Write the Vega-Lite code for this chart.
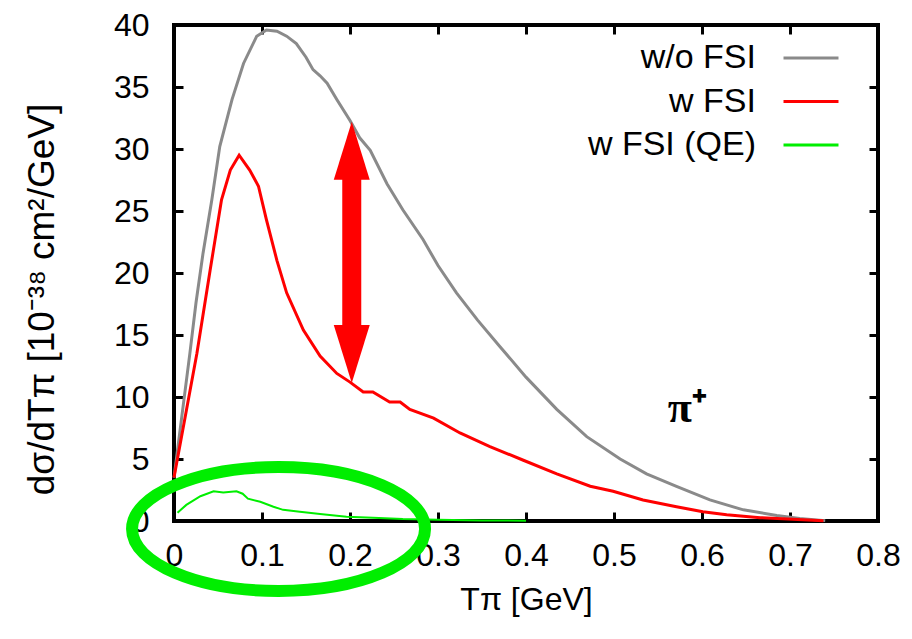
{
  "$schema": "https://vega.github.io/schema/vega-lite/v6.json",
  "width": 704,
  "height": 496,
  "autosize": {"type": "none"},
  "padding": {"left": 174, "top": 25, "right": 34, "bottom": 118},
  "background": "white",
  "config": {
    "view": {"stroke": "black", "strokeWidth": 4},
    "axis": {
      "domain": false, "grid": false, "ticks": true,
      "tickColor": "black", "tickWidth": 3, "tickSize": -9,
      "labelFont": "Liberation Sans", "labelFontSize": 32, "labelColor": "black",
      "titleFont": "Liberation Sans", "titleFontSize": 32, "titleFontWeight": "normal", "titleColor": "black"
    }
  },
  "datasets": {
    "curves": [
      {"series": "w/o FSI", "T": 0.0, "v": 3.5},
      {"series": "w/o FSI", "T": 0.018, "v": 13.5},
      {"series": "w/o FSI", "T": 0.025, "v": 17.6},
      {"series": "w/o FSI", "T": 0.033, "v": 21.6},
      {"series": "w/o FSI", "T": 0.043, "v": 25.9},
      {"series": "w/o FSI", "T": 0.052, "v": 30.2},
      {"series": "w/o FSI", "T": 0.066, "v": 34.0},
      {"series": "w/o FSI", "T": 0.079, "v": 36.9},
      {"series": "w/o FSI", "T": 0.094, "v": 39.1},
      {"series": "w/o FSI", "T": 0.105, "v": 39.6},
      {"series": "w/o FSI", "T": 0.117, "v": 39.5},
      {"series": "w/o FSI", "T": 0.128, "v": 39.1},
      {"series": "w/o FSI", "T": 0.139, "v": 38.5},
      {"series": "w/o FSI", "T": 0.150, "v": 37.4},
      {"series": "w/o FSI", "T": 0.158, "v": 36.4},
      {"series": "w/o FSI", "T": 0.166, "v": 35.9},
      {"series": "w/o FSI", "T": 0.174, "v": 35.3},
      {"series": "w/o FSI", "T": 0.185, "v": 34.0},
      {"series": "w/o FSI", "T": 0.2, "v": 32.3},
      {"series": "w/o FSI", "T": 0.211, "v": 30.9},
      {"series": "w/o FSI", "T": 0.223, "v": 29.9},
      {"series": "w/o FSI", "T": 0.242, "v": 27.2},
      {"series": "w/o FSI", "T": 0.26, "v": 25.1},
      {"series": "w/o FSI", "T": 0.283, "v": 22.7},
      {"series": "w/o FSI", "T": 0.30, "v": 20.6},
      {"series": "w/o FSI", "T": 0.321, "v": 18.4},
      {"series": "w/o FSI", "T": 0.345, "v": 16.2},
      {"series": "w/o FSI", "T": 0.37, "v": 14.1},
      {"series": "w/o FSI", "T": 0.40, "v": 11.6},
      {"series": "w/o FSI", "T": 0.435, "v": 9.0},
      {"series": "w/o FSI", "T": 0.469, "v": 6.8},
      {"series": "w/o FSI", "T": 0.507, "v": 5.0},
      {"series": "w/o FSI", "T": 0.537, "v": 3.8},
      {"series": "w/o FSI", "T": 0.571, "v": 2.8},
      {"series": "w/o FSI", "T": 0.609, "v": 1.7},
      {"series": "w/o FSI", "T": 0.647, "v": 0.9},
      {"series": "w/o FSI", "T": 0.685, "v": 0.45},
      {"series": "w/o FSI", "T": 0.711, "v": 0.2},
      {"series": "w/o FSI", "T": 0.74, "v": 0.03},
      {"series": "w FSI", "T": 0.0, "v": 3.5},
      {"series": "w FSI", "T": 0.026, "v": 13.5},
      {"series": "w FSI", "T": 0.041, "v": 20.2},
      {"series": "w FSI", "T": 0.054, "v": 25.9},
      {"series": "w FSI", "T": 0.064, "v": 28.3},
      {"series": "w FSI", "T": 0.074, "v": 29.5},
      {"series": "w FSI", "T": 0.086, "v": 28.3},
      {"series": "w FSI", "T": 0.096, "v": 27.0},
      {"series": "w FSI", "T": 0.105, "v": 24.3},
      {"series": "w FSI", "T": 0.117, "v": 21.0},
      {"series": "w FSI", "T": 0.128, "v": 18.4},
      {"series": "w FSI", "T": 0.147, "v": 15.4},
      {"series": "w FSI", "T": 0.166, "v": 13.3},
      {"series": "w FSI", "T": 0.185, "v": 11.9},
      {"series": "w FSI", "T": 0.2, "v": 11.2},
      {"series": "w FSI", "T": 0.215, "v": 10.4},
      {"series": "w FSI", "T": 0.226, "v": 10.4},
      {"series": "w FSI", "T": 0.245, "v": 9.6},
      {"series": "w FSI", "T": 0.257, "v": 9.6},
      {"series": "w FSI", "T": 0.268, "v": 9.0},
      {"series": "w FSI", "T": 0.295, "v": 8.3},
      {"series": "w FSI", "T": 0.325, "v": 7.1},
      {"series": "w FSI", "T": 0.359, "v": 6.0},
      {"series": "w FSI", "T": 0.397, "v": 4.9},
      {"series": "w FSI", "T": 0.435, "v": 3.8},
      {"series": "w FSI", "T": 0.473, "v": 2.8},
      {"series": "w FSI", "T": 0.499, "v": 2.4},
      {"series": "w FSI", "T": 0.533, "v": 1.7},
      {"series": "w FSI", "T": 0.571, "v": 1.15},
      {"series": "w FSI", "T": 0.601, "v": 0.75},
      {"series": "w FSI", "T": 0.628, "v": 0.5},
      {"series": "w FSI", "T": 0.666, "v": 0.27},
      {"series": "w FSI", "T": 0.703, "v": 0.15},
      {"series": "w FSI", "T": 0.738, "v": 0.03},
      {"series": "w FSI (QE)", "T": 0.004, "v": 0.67},
      {"series": "w FSI (QE)", "T": 0.014, "v": 1.3},
      {"series": "w FSI (QE)", "T": 0.03, "v": 2.0},
      {"series": "w FSI (QE)", "T": 0.045, "v": 2.4},
      {"series": "w FSI (QE)", "T": 0.056, "v": 2.3},
      {"series": "w FSI (QE)", "T": 0.071, "v": 2.4},
      {"series": "w FSI (QE)", "T": 0.078, "v": 2.2},
      {"series": "w FSI (QE)", "T": 0.084, "v": 1.8},
      {"series": "w FSI (QE)", "T": 0.098, "v": 1.55},
      {"series": "w FSI (QE)", "T": 0.113, "v": 1.15},
      {"series": "w FSI (QE)", "T": 0.124, "v": 0.9},
      {"series": "w FSI (QE)", "T": 0.143, "v": 0.75},
      {"series": "w FSI (QE)", "T": 0.166, "v": 0.56},
      {"series": "w FSI (QE)", "T": 0.196, "v": 0.35},
      {"series": "w FSI (QE)", "T": 0.226, "v": 0.27},
      {"series": "w FSI (QE)", "T": 0.26, "v": 0.16},
      {"series": "w FSI (QE)", "T": 0.3, "v": 0.1},
      {"series": "w FSI (QE)", "T": 0.35, "v": 0.05},
      {"series": "w FSI (QE)", "T": 0.4, "v": 0.02}
    ],
    "annot": [
      {"kind": "ellipse", "T": 0.1188, "v": -0.645},
      {"kind": "headUp", "T": 0.202, "v": 29.86},
      {"kind": "headDown", "T": 0.202, "v": 13.47},
      {"kind": "shaft", "T": 0.202, "v": 27.6, "v2": 15.7},
      {"kind": "label", "T": 0.561, "v": 7.98, "text": "π⁺"}
    ]
  },
  "layer": [
    {
      "data": {"name": "curves"},
      "transform": [{"filter": "datum.series == 'w/o FSI'"}],
      "mark": {"type": "line", "strokeWidth": 3},
      "encoding": {
        "x": {"field": "T", "type": "quantitative",
              "scale": {"domain": [0, 0.8], "nice": false, "zero": false},
              "axis": {"orient": "bottom", "values": [0, 0.1, 0.2, 0.3, 0.4, 0.5, 0.6, 0.7, 0.8], "format": "~g",
                       "labelPadding": 28, "labelFlush": false, "title": "Tπ [GeV]", "titleY": 88, "titleBaseline": "alphabetic"}},
        "y": {"field": "v", "type": "quantitative",
              "scale": {"domain": [0, 40], "nice": false, "zero": false},
              "axis": {"orient": "left", "values": [0, 5, 10, 15, 20, 25, 30, 35, 40], "format": "d",
                       "labelPadding": 34, "labelFlush": false,
                       "title": "dσ/dTπ [10⁻³⁸ cm²/GeV]", "titleFontSize": 37, "titleAngle": 270, "titleX": -132, "titleY": 274,
                       "titleAlign": "center", "titleBaseline": "middle"}},
        "color": {"field": "series", "type": "nominal",
                  "scale": {"domain": ["w/o FSI", "w FSI", "w FSI (QE)"], "range": ["#8a8a8a", "#ff0000", "#00ee00"]},
                  "legend": {"title": null, "orient": "none", "legendX": 620, "legendY": 16,
                             "symbolType": "M-2,0L2,0", "symbolSize": 756, "symbolStrokeWidth": 3,
                             "labelFont": "Liberation Sans", "labelFontSize": 34, "labelColor": "black",
                             "labelAlign": "right", "labelOffset": -72, "rowPadding": 9.5, "padding": 0, "labelLimit": 400}}
      }
    },
    {
      "data": {"name": "curves"},
      "transform": [{"filter": "datum.series == 'w FSI'"}],
      "mark": {"type": "line", "strokeWidth": 3},
      "encoding": {
        "x": {"field": "T", "type": "quantitative",
              "axis": {"orient": "top", "values": [0, 0.1, 0.2, 0.3, 0.4, 0.5, 0.6, 0.7, 0.8], "labels": false, "title": null}},
        "y": {"field": "v", "type": "quantitative",
              "axis": {"orient": "right", "values": [0, 5, 10, 15, 20, 25, 30, 35, 40], "labels": false, "title": null}},
        "color": {"field": "series", "type": "nominal"}
      }
    },
    {
      "data": {"name": "curves"},
      "transform": [{"filter": "datum.series == 'w FSI (QE)'"}],
      "mark": {"type": "line", "strokeWidth": 2},
      "encoding": {
        "x": {"field": "T", "type": "quantitative", "axis": null},
        "y": {"field": "v", "type": "quantitative", "axis": null},
        "color": {"field": "series", "type": "nominal"}
      }
    },
    {
      "data": {"name": "annot"},
      "transform": [{"filter": "datum.kind == 'ellipse'"}],
      "mark": {"type": "point", "shape": "M-1,0C-1,-0.2336,-0.5523,-0.423,0,-0.423C0.5523,-0.423,1,-0.2336,1,0C1,0.2336,0.5523,0.423,0,0.423C-0.5523,0.423,-1,0.2336,-1,0Z",
               "size": 85849, "filled": false, "stroke": "#00ee00", "strokeWidth": 12, "opacity": 1},
      "encoding": {
        "x": {"field": "T", "type": "quantitative", "axis": null},
        "y": {"field": "v", "type": "quantitative", "axis": null}
      }
    },
    {
      "data": {"name": "annot"},
      "transform": [{"filter": "datum.kind == 'shaft'"}],
      "mark": {"type": "rule", "color": "#ff0000", "strokeWidth": 19, "strokeCap": "butt"},
      "encoding": {
        "x": {"field": "T", "type": "quantitative", "axis": null},
        "y": {"field": "v", "type": "quantitative", "axis": null},
        "y2": {"field": "v2"}
      }
    },
    {
      "data": {"name": "annot"},
      "transform": [{"filter": "datum.kind == 'headUp'"}],
      "mark": {"type": "point", "shape": "M0,-1L0.62,1L-0.62,1Z", "size": 3364, "filled": true, "color": "#ff0000", "opacity": 1, "strokeWidth": 0},
      "encoding": {
        "x": {"field": "T", "type": "quantitative", "axis": null},
        "y": {"field": "v", "type": "quantitative", "axis": null}
      }
    },
    {
      "data": {"name": "annot"},
      "transform": [{"filter": "datum.kind == 'headDown'"}],
      "mark": {"type": "point", "shape": "M0,1L0.62,-1L-0.62,-1Z", "size": 3364, "filled": true, "color": "#ff0000", "opacity": 1, "strokeWidth": 0},
      "encoding": {
        "x": {"field": "T", "type": "quantitative", "axis": null},
        "y": {"field": "v", "type": "quantitative", "axis": null}
      }
    },
    {
      "data": {"name": "annot"},
      "transform": [{"filter": "datum.kind == 'label'"}],
      "mark": {"type": "text", "font": "Liberation Serif", "fontWeight": "bold", "fontSize": 44, "align": "left", "baseline": "alphabetic", "color": "black"},
      "encoding": {
        "x": {"field": "T", "type": "quantitative", "axis": null},
        "y": {"field": "v", "type": "quantitative", "axis": null},
        "text": {"field": "text"}
      }
    }
  ]
}
